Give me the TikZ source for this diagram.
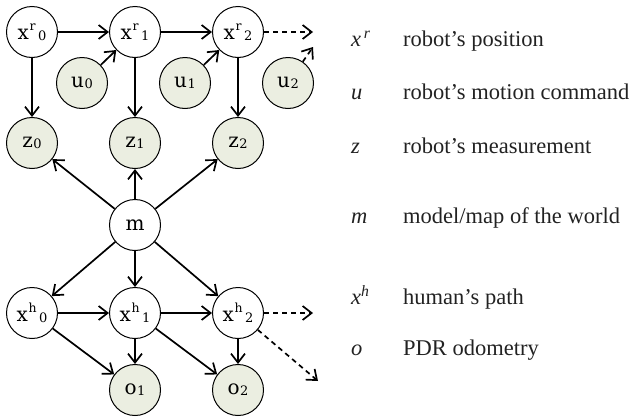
\documentclass[tikz,border=0pt]{standalone}
\usepackage{fontspec}
\setmainfont{Liberation Serif}
\newfontfamily\nodefont{DejaVu Serif}
\usetikzlibrary{arrows.meta}
\definecolor{obsfill}{RGB}{235,238,225}
\definecolor{legcol}{RGB}{34,34,34}
\newcommand{\sbs}[1]{\raisebox{-1pt}{\fontsize{13}{13}\selectfont #1}}
\newcommand{\sps}[1]{\kern0.8pt\raisebox{9pt}{\fontsize{12.5}{12.5}\selectfont #1}\kern2.5pt}
\newcommand{\lab}[3]{#1\sps{#2}\sbs{#3}}
\newcommand{\labz}[2]{#1\kern0.5pt\sbs{#2}}
\begin{document}
\begin{tikzpicture}[x=1pt,y=-1pt,
 var/.style={circle,draw,line width=1pt,minimum size=51pt,inner sep=0pt,fill=white,font=\nodefont\fontsize{20}{20}\selectfont},
 obs/.style={var,fill=obsfill},
 edge/.style={line width=1.7pt,-{Straight Barb[length=9pt,width=14pt]}},
 dedge/.style={edge,dash pattern=on 5pt off 4pt},
 legsym/.style={anchor=base west,inner sep=0pt,text=legcol,font=\fontsize{22.5}{22.5}\selectfont\itshape},
 legtxt/.style={anchor=base west,inner sep=0pt,text=legcol,font=\fontsize{22.5}{22.5}\selectfont}]
\useasboundingbox (0,0) rectangle (634,418);
% robot chain
\node[var] (xr0) at (32,32) {\lab{x}{r}{0}};
\node[var] (xr1) at (135,32) {\lab{x}{r}{1}};
\node[var] (xr2) at (238,32) {\lab{x}{r}{2}};
\node[obs] (u0) at (82,83) {\labz{u}{0}};
\node[obs] (u1) at (185,83) {\labz{u}{1}};
\node[obs] (u2) at (288,83) {\labz{u}{2}};
\node[obs] (z0) at (32,143) {\labz{z}{0}};
\node[obs] (z1) at (135,143) {\labz{z}{1}};
\node[obs] (z2) at (238,143) {\labz{z}{2}};
\node[var] (m) at (135,225) {m};
\node[var] (xh0) at (32,313) {\lab{x}{h}{0}};
\node[var] (xh1) at (135,313) {\lab{x}{h}{1}};
\node[var] (xh2) at (238,313) {\lab{x}{h}{2}};
\node[obs] (o1) at (135,390) {\labz{o}{1}};
\node[obs] (o2) at (238,390) {\labz{o}{2}};
\coordinate (xr3) at (313,32);
\coordinate (u2end) at (313,47);
\coordinate (xh3) at (313,313);
\coordinate (o3) at (318,381);
% edges
\draw[edge] (xr0) -- (xr1);
\draw[edge] (xr1) -- (xr2);
\draw[dedge] (xr2) -- (xr3);
\draw[edge] (u0) -- (xr1);
\draw[edge] (u1) -- (xr2);
\draw[dedge] (u2) -- (u2end);
\draw[edge] (xr0) -- (z0);
\draw[edge] (xr1) -- (z1);
\draw[edge] (xr2) -- (z2);
\draw[edge] (m) -- (z0);
\draw[edge] (m) -- (z1);
\draw[edge] (m) -- (z2);
\draw[edge] (m) -- (xh0);
\draw[edge] (m) -- (xh1);
\draw[edge] (m) -- (xh2);
\draw[edge] (xh0) -- (xh1);
\draw[edge] (xh1) -- (xh2);
\draw[dedge] (xh2) -- (xh3);
\draw[edge] (xh0) -- (o1);
\draw[edge] (xh1) -- (o1);
\draw[edge] (xh1) -- (o2);
\draw[edge] (xh2) -- (o2);
\draw[dedge] (xh2) -- (o3);
% legend
\node[legsym] (s1) at (351,46) {x\textsuperscript{\,r}};
\node[legtxt] (t1) at (403,46) {robot’s position};
\node[legsym] (s2) at (351,99) {u};
\node[legtxt] (t2) at (403,99) {robot’s motion command};
\node[legsym] (s3) at (351,153) {z};
\node[legtxt] (t3) at (403,153) {robot’s measurement};
\node[legsym] (s4) at (351,223) {m};
\node[legtxt] (t4) at (403,223) {model/map of the world};
\node[legsym] (s5) at (351,304) {x\textsuperscript{h}};
\node[legtxt] (t5) at (403,304) {human’s path};
\node[legsym] (s6) at (351,355) {o};
\node[legtxt] (t6) at (403,355) {PDR odometry};
\end{tikzpicture}
\end{document}
